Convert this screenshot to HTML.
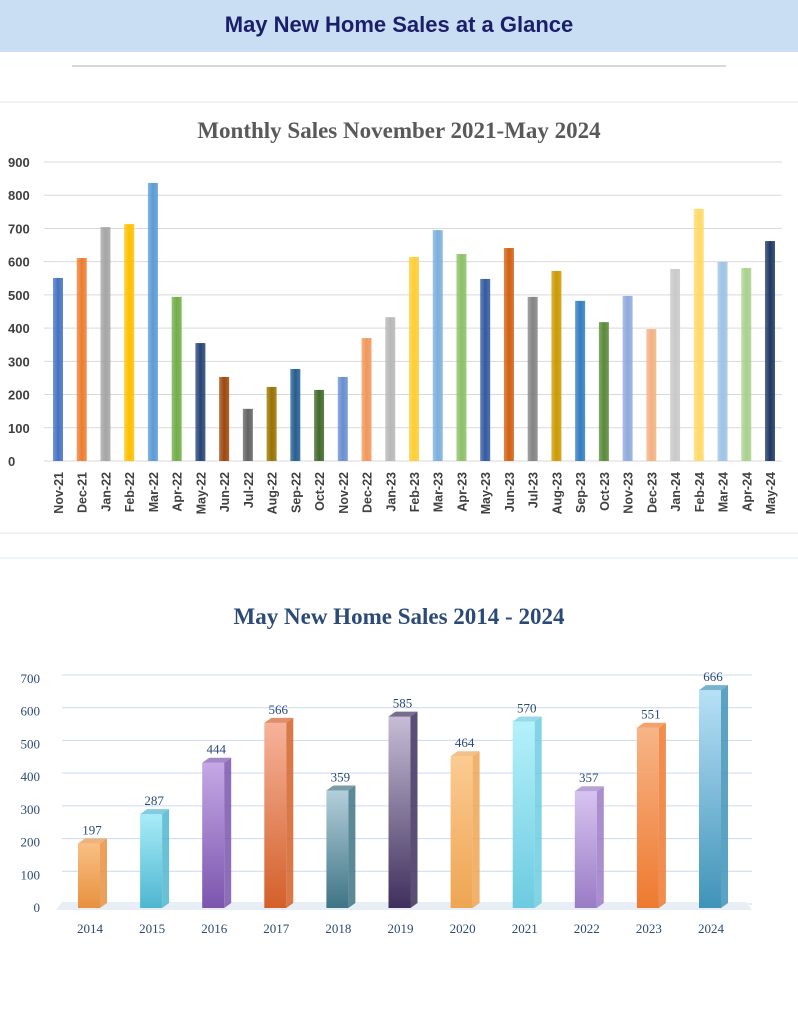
<!DOCTYPE html>
<html><head><meta charset="utf-8"><style>
body{margin:0;width:798px;height:1024px;background:#fff;overflow:hidden;font-family:"Liberation Sans",sans-serif}
#hdr{position:absolute;left:0;top:0;width:798px;height:52px;background:#c9def3;text-align:center;line-height:50px;font-weight:bold;font-size:22px;color:#1b1f6b}
svg{position:absolute;left:0;top:0}
</style></head><body>
<div id="hdr">May New Home Sales at a Glance</div>
<svg id="s" width="798" height="1024">
<line x1="72" y1="66" x2="726" y2="66" stroke="#b0b0b0"/>
<line x1="0" y1="102" x2="798" y2="102" stroke="#e6e6e6"/>
<line x1="0" y1="533" x2="798" y2="533" stroke="#e6e6e6"/>
<line x1="0" y1="558" x2="798" y2="558" stroke="#dce8f4"/>
<text x="399" y="138" text-anchor="middle" font-family="Liberation Serif,serif" font-weight="bold" font-size="23" fill="#595959">Monthly Sales November 2021-May 2024</text>
<text x="399" y="624" text-anchor="middle" font-family="Liberation Serif,serif" font-weight="bold" font-size="23" fill="#2b4a78">May New Home Sales 2014 - 2024</text>
<defs id="d"></defs>
</svg>
<script>
const months=["Nov-21","Dec-21","Jan-22","Feb-22","Mar-22","Apr-22","May-22","Jun-22","Jul-22","Aug-22","Sep-22","Oct-22","Nov-22","Dec-22","Jan-23","Feb-23","Mar-23","Apr-23","May-23","Jun-23","Jul-23","Aug-23","Sep-23","Oct-23","Nov-23","Dec-23","Jan-24","Feb-24","Mar-24","Apr-24","May-24"];
const monthlySales=[551,611,704,713,837,494,355,253,157,223,277,214,253,370,433,614,695,623,548,641,494,572,482,418,497,397,578,759,599,581,662];
const monthTicks=[0,100,200,300,400,500,600,700,800,900];
const years=["2014","2015","2016","2017","2018","2019","2020","2021","2022","2023","2024"];
const maySales=[197,287,444,566,359,585,464,570,357,551,666];
const yearTicks=[0,100,200,300,400,500,600,700];
const pal1=["#4472c4","#ed7d31","#a5a5a5","#ffc000","#5b9bd5","#70ad47","#264478","#9e480e","#636363","#997300","#255e91","#43682b","#698ed0","#f1975a","#b7b7b7","#ffcd33","#7cafdd","#8cc168","#335aa1","#d26012","#848484","#cc9a00","#327dc2","#5a8a39","#8faadc","#f4b183","#c9c9c9","#ffd966","#9dc3e6","#a9d18e","#1f3864"];
const pal2=[["#f9bf83","#e8913f"],["#a8ecf8","#4fb6d0"],["#c5a8e6","#7b55ad"],["#f6b39a","#d3602a"],["#b4cedb","#3f7484"],["#c7bdd6","#3e2f5c"],["#fbcb92","#eea552"],["#b4f1fb","#6ccbe0"],["#d7c4f0","#9a7bc6"],["#f7b487","#ee7a30"],["#b8e0f6","#3f93b8"]];
const s=document.getElementById('s'),d=document.getElementById('d');
const NS="http://www.w3.org/2000/svg";
function mk(t,a,p){const e=document.createElementNS(NS,t);for(const k in a)e.setAttribute(k,a[k]);(p||s).appendChild(e);return e;}
// chart 1
const y1=v=>461-v*(299/900), x1=i=>58+i*(712/30);
monthTicks.forEach(t=>{
 const l=mk('line',{x1:44,x2:782,y1:y1(t),y2:y1(t),stroke:'#d9d9d9'});
 
 const tx=mk('text',{x:8,y:y1(t)+5,'font-size':13,'font-weight':'bold',fill:'#404040'});tx.textContent=t;
 
});
monthlySales.forEach((v,i)=>{
 const g=mk('linearGradient',{id:'g1'+i,x1:0,x2:1,y1:0,y2:0},d);
 mk('stop',{offset:0,'stop-color':pal1[i],'stop-opacity':0.75},g);mk('stop',{offset:0.5,'stop-color':pal1[i]},g);mk('stop',{offset:1,'stop-color':pal1[i],'stop-opacity':0.85},g);
 const r=mk('rect',{x:x1(i)-5,y:y1(v),width:10,height:y1(0)-y1(v),fill:'url(#g1'+i+')'});
 
 const tx=mk('text',{x:0,y:0,'font-size':12.5,'font-weight':'bold',fill:'#404040','text-anchor':'end',transform:`translate(${x1(i)+5},472) rotate(-90)`});tx.textContent=months[i];
 
});
// chart 2
const y2=v=>908-v*(229/700), x2=i=>90+i*62.1;
yearTicks.forEach(t=>{
 const l=mk('line',{x1:62,x2:752,y1:y2(t)-4,y2:y2(t)-4,stroke:'#c9daf0'});
 
 const tx=mk('text',{x:40,y:y2(t)+4,'font-size':13,'text-anchor':'end','font-family':'Liberation Serif,serif',fill:'#2b4a78'});tx.textContent=t;
 
});
mk('polygon',{points:`56,${y2(0)+2} 752,${y2(0)+2} 746,${y2(0)-6} 62,${y2(0)-6}`,fill:'#e8eef6'});
maySales.forEach((v,i)=>{
 const c=pal2[i],x=x2(i)-12,w=22,top=y2(v),b=y2(0);
 const g=mk('linearGradient',{id:'g2'+i,x1:0,x2:0,y1:0,y2:1},d);
 mk('stop',{offset:0,'stop-color':c[0]},g);mk('stop',{offset:1,'stop-color':c[1]},g);
 const r=mk('rect',{x:x,y:top,width:w,height:b-top,fill:'url(#g2'+i+')'});
 
 const sd=mk('polygon',{points:`${x+w},${top} ${x+w+7},${top-5} ${x+w+7},${b-5} ${x+w},${b}`,fill:c[1],opacity:0.85});
 
 const tp=mk('polygon',{points:`${x},${top} ${x+7},${top-5} ${x+w+7},${top-5} ${x+w},${top}`,fill:c[1],opacity:0.7});
 
 const lb=mk('text',{x:x2(i)+2,y:top-9,'font-size':13,'text-anchor':'middle','font-family':'Liberation Serif,serif',fill:'#2b4a78'});lb.textContent=v;
 
 const tx=mk('text',{x:x2(i),y:933,'font-size':13,'text-anchor':'middle','font-family':'Liberation Serif,serif',fill:'#2b4a78'});tx.textContent=years[i];
 
});
</script>
</body></html>
